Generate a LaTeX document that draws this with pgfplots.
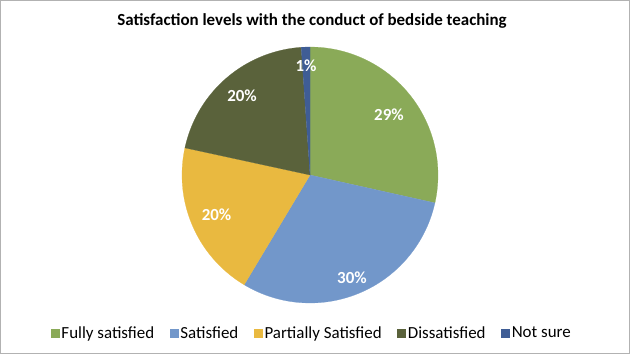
\documentclass[border=0pt]{standalone}
\usepackage{pgfplots}
\pgfplotsset{compat=1.18}
\usepackage{fontspec}
\setmainfont{Carlito}
\definecolor{cfully}{HTML}{8AAA58}
\definecolor{csat}{HTML}{7297CA}
\definecolor{cpart}{HTML}{E9B940}
\definecolor{cdis}{HTML}{5A623B}
\definecolor{cnot}{HTML}{3F5D95}
\begin{document}
\begin{tikzpicture}[x=1bp,y=1bp]
\draw[black!30, line width=1bp] (0.5,0.5) rectangle (629.5,353.5);
\node[font=\bfseries\fontsize{17}{19}\selectfont] at (312,333) {Satisfaction levels with the conduct of bedside teaching};
% percentages of respondents
\pgfmathsetmacro{\pA}{28.5}
\pgfmathsetmacro{\pB}{30.1}
\pgfmathsetmacro{\pC}{19.8}
\pgfmathsetmacro{\pD}{20.5}
\pgfmathsetmacro{\pE}{1.1}
\pgfmathsetmacro{\aA}{90}
\pgfmathsetmacro{\aB}{\aA-3.6*\pA}
\pgfmathsetmacro{\aC}{\aB-3.6*\pB}
\pgfmathsetmacro{\aD}{\aC-3.6*\pC}
\pgfmathsetmacro{\aE}{\aD-3.6*\pD}
\pgfmathsetmacro{\aF}{\aE-3.6*\pE}
\begin{axis}[at={(182bp,51bp)}, anchor=south west, scale only axis,
  width=256bp, height=256bp, hide axis, xmin=-1, xmax=1, ymin=-1, ymax=1,
  clip=false,
  legend columns=5,
  legend style={draw=none, fill=none, at={(0.508,-0.117)}, anchor=center,
    font=\fontsize{17}{19}\selectfont, inner sep=0pt,
    nodes={inner sep=2.5bp},
    /tikz/every even column/.append style={column sep=13bp}},
  legend image code/.code={\fill[#1] (0bp,-4bp) rectangle (8bp,4bp);},
  ]
\addplot[fill=cfully, draw=cfully, line width=0.2pt, domain=\aA:\aB, samples=60, variable=\t] ({cos(t)},{sin(t)}) -- (axis cs:0,0) -- cycle;
\addlegendentry{Fully satisfied}
\addplot[fill=csat, draw=csat, line width=0.2pt, domain=\aB:\aC, samples=60, variable=\t] ({cos(t)},{sin(t)}) -- (axis cs:0,0) -- cycle;
\addlegendentry{Satisfied}
\addplot[fill=cpart, draw=cpart, line width=0.2pt, domain=\aC:\aD, samples=60, variable=\t] ({cos(t)},{sin(t)}) -- (axis cs:0,0) -- cycle;
\addlegendentry{Partially Satisfied}
\addplot[fill=cdis, draw=cdis, line width=0.2pt, domain=\aD:\aE, samples=60, variable=\t] ({cos(t)},{sin(t)}) -- (axis cs:0,0) -- cycle;
\addlegendentry{Dissatisfied}
\addplot[fill=cnot, draw=cnot, line width=0.2pt, domain=\aE:\aF, samples=10, variable=\t] ({cos(t)},{sin(t)}) -- (axis cs:0,0) -- cycle;
\addlegendentry{Not sure}
\begin{scope}[every node/.style={text=white, font=\bfseries\fontsize{17}{19}\selectfont}]
\node at (axis cs:0.617,0.469) {29\%};
\node at (axis cs:0.328,-0.805) {30\%};
\node at (axis cs:-0.730,-0.313) {20\%};
\node at (axis cs:-0.531,0.617) {20\%};
\node at (axis cs:-0.031,0.852) {1\%};
\end{scope}
\end{axis}
\end{tikzpicture}
\end{document}
